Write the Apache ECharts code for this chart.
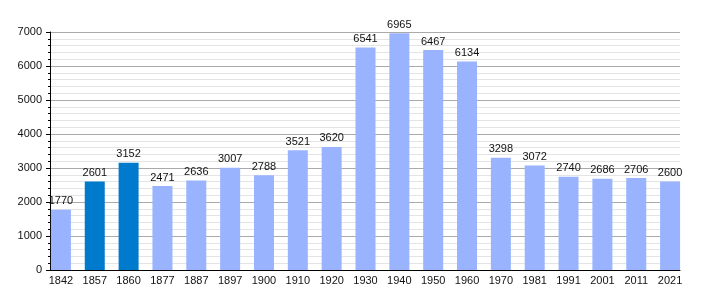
<!DOCTYPE html>
<html><head><meta charset="utf-8">
<script src="https://cdn.jsdelivr.net/npm/echarts@6/dist/echarts.min.js"></script>
<style>html,body{margin:0;padding:0;background:#fff}#c{width:710px;height:300px}</style>
</head><body><div id="c"></div>
<script>
const years = ["1842","1857","1860","1877","1887","1897","1900","1910","1920","1930","1940","1950","1960","1970","1981","1991","2001","2011","2021"];
const population = [1770,2601,3152,2471,2636,3007,2788,3521,3620,6541,6965,6467,6134,3298,3072,2740,2686,2706,2600];
const highlighted = ["1857","1860"];
const yTicks = [0,1000,2000,3000,4000,5000,6000,7000];

const lightColor = '#99b3ff';
const darkColor = '#007acc';
const chart = echarts.init(document.getElementById('c'), null, {renderer:'canvas'});
const font = 'Liberation Sans, Arial, sans-serif';
chart.setOption({
  animation:false,
  grid:[
    {left:50, right:30, top:32, bottom:30},
    {left:44, right:23, top:32, bottom:30}
  ],
  xAxis:[
    {type:'category', gridIndex:0, data:years, axisLine:{lineStyle:{color:'#000',width:1}}, axisTick:{show:false}, axisLabel:{show:false}},
    {type:'category', gridIndex:1, data:years, axisLine:{show:false}, axisTick:{show:false},
     axisLabel:{color:'#111', fontSize:11, fontFamily:font, margin:5}}
  ],
  yAxis:[
    {type:'value', gridIndex:0, min:yTicks[0], max:yTicks[yTicks.length-1], interval:1000,
     axisLine:{show:true, lineStyle:{color:'#000'}},
     axisTick:{show:true, length:4, lineStyle:{color:'#000'}},
     minorTick:{show:true, splitNumber:5, length:2, lineStyle:{color:'#000'}},
     splitLine:{show:true, lineStyle:{color:'#aaaaaa', width:1}},
     minorSplitLine:{show:true, lineStyle:{color:'#e4e4e4', width:1}},
     axisLabel:{color:'#111', fontSize:11, fontFamily:font, margin:8, formatter:(v)=>String(v)}},
    {type:'value', gridIndex:1, min:yTicks[0], max:yTicks[yTicks.length-1], show:false, splitLine:{show:false}}
  ],
  series:[{
    type:'bar', xAxisIndex:1, yAxisIndex:1, barWidth:20,
    data: population.map((v,i)=>({value:v, itemStyle:{color: highlighted.includes(years[i]) ? darkColor : lightColor}})),
    label:{show:true, position:'top', distance:3, color:'#111', fontSize:11, fontFamily:font}
  }]
});
</script></body></html>
